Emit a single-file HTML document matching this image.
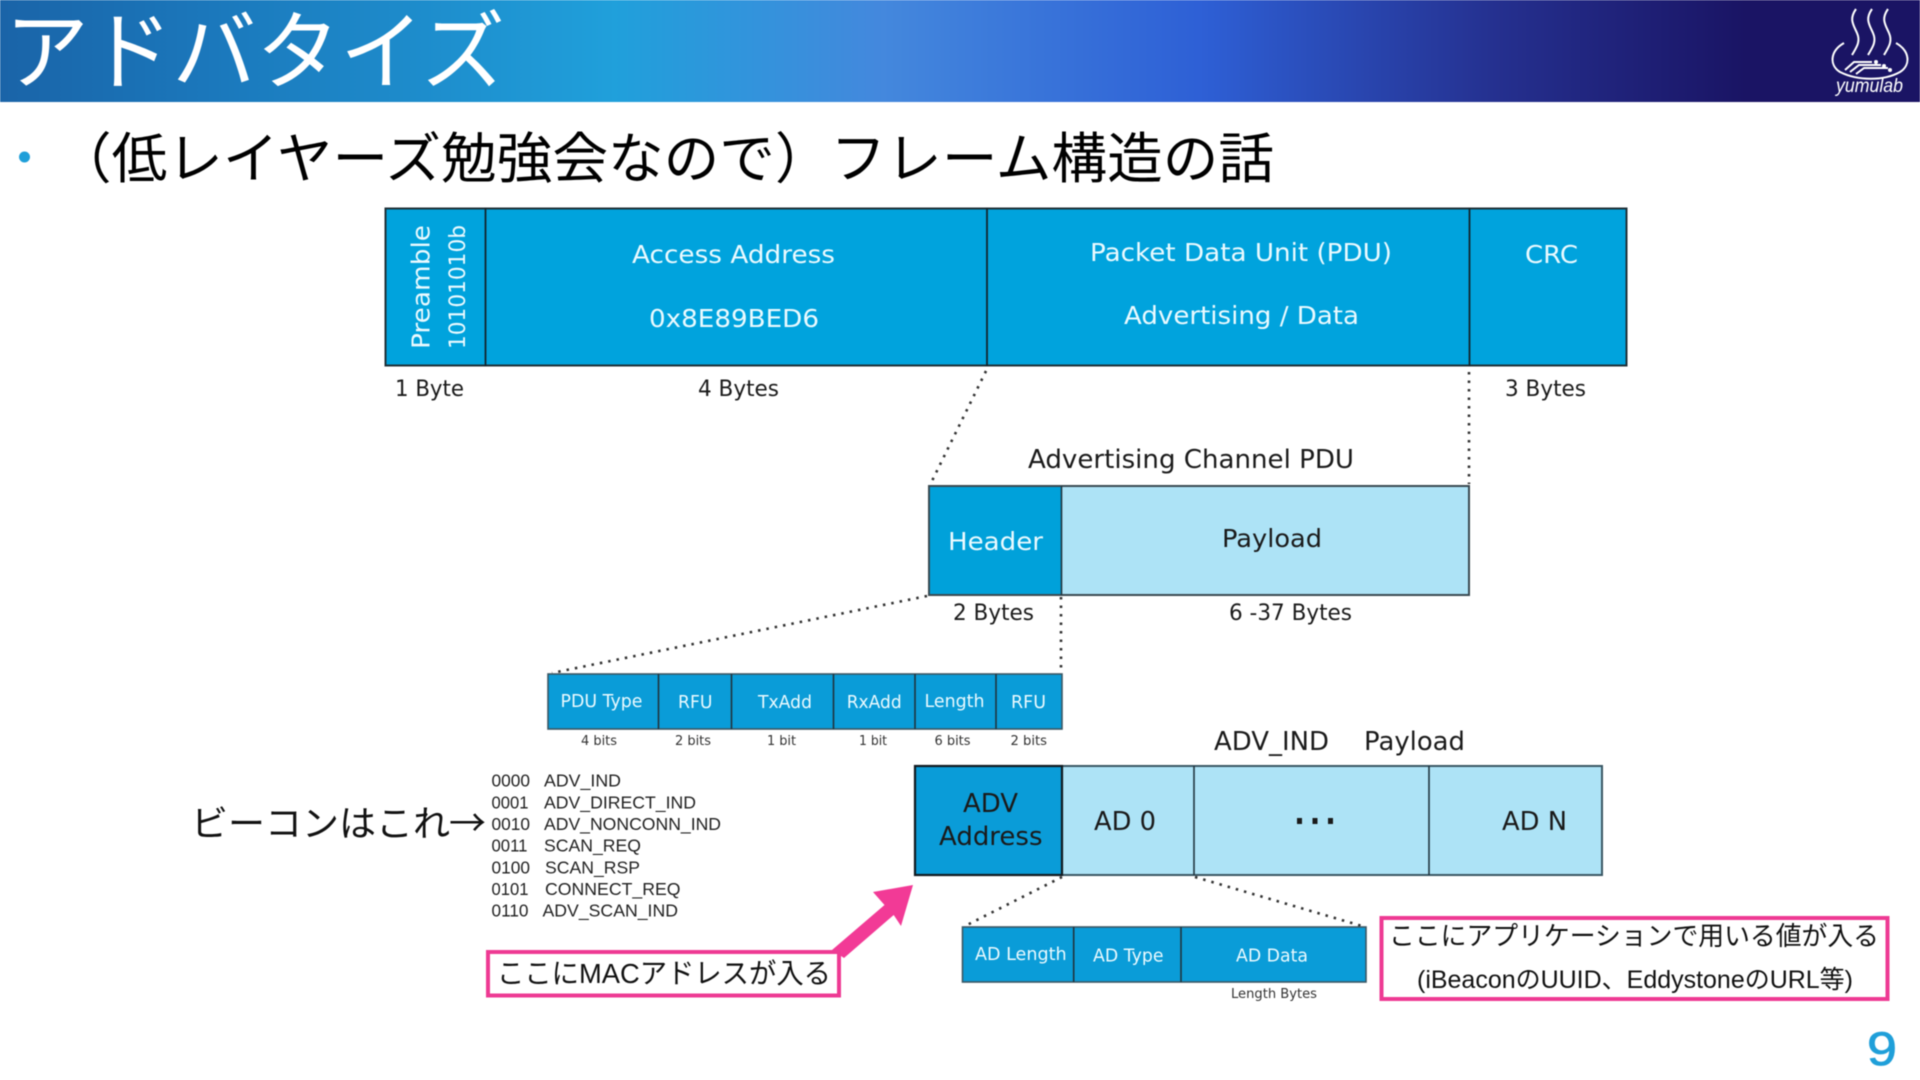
<!DOCTYPE html>
<html lang="ja"><head><meta charset="utf-8"><title>アドバタイズ</title>
<style>
html,body{margin:0;padding:0;background:#fff;width:1920px;height:1080px;overflow:hidden}
svg{display:block;filter:blur(.4px)}
.d{font-family:"DejaVu Sans",sans-serif}
.j{font-family:"Liberation Sans","Noto Sans CJK JP",sans-serif;font-weight:400}
.l{font-family:"Liberation Sans",sans-serif;fill:#222}
.w{fill:#eafaff}.k{fill:#1a1a1a}.g{fill:#333}
.dot{stroke:#333;stroke-width:2.6;stroke-dasharray:2.5 6;fill:none}
.ln{stroke:#20343e;stroke-width:1.6}
</style></head><body>
<svg width="1920" height="1080" viewBox="0 0 1920 1080" xmlns="http://www.w3.org/2000/svg">
<defs><linearGradient id="bar" x1="0" x2="1" y1="0" y2="0">
<stop offset="0" stop-color="#1a64a8"/><stop offset=".11" stop-color="#1b78bc"/><stop offset=".32" stop-color="#20a0db"/><stop offset=".46" stop-color="#4488dd"/><stop offset=".625" stop-color="#2e60d6"/><stop offset=".78" stop-color="#25308f"/><stop offset=".91" stop-color="#1a1464"/><stop offset="1" stop-color="#1a1464"/>
</linearGradient></defs>
<rect width="1920" height="102" fill="url(#bar)"/>
<text class="j" x="5" y="82" font-size="86" fill="#fff" textLength="500" lengthAdjust="spacingAndGlyphs">アドバタイズ</text>

<!-- logo -->
<g fill="none" stroke="#fff" stroke-width="2">
<path d="M1856 9c-7 10-3 15 1 24s-1 15-5 22M1872 9c-7 10-3 15 1 24s-1 15-5 22M1888 9c-7 10-3 15 1 24s-1 15-5 22"/>
<path d="M1844 43c-14 8-15 22-4 29 18 9 44 9 60 0 11-7 10-21-4-29"/>
<path d="M1845 70l9-8h18M1850 72l9-7h22M1856 74l8-6h24"/>
</g>
<circle cx="1876" cy="62" r="2" fill="#fff"/><circle cx="1884" cy="66" r="2" fill="#fff"/><circle cx="1890" cy="70" r="2" fill="#fff"/>
<text x="1836" y="92" font-family="Liberation Sans,sans-serif" font-style="italic" font-size="19" fill="#fff" textLength="67" lengthAdjust="spacingAndGlyphs">yumulab</text>

<circle cx="24.5" cy="157" r="5.5" fill="#1f9fd9"/>
<text class="j" x="56" y="178" font-size="55" fill="#000" textLength="1218" lengthAdjust="spacingAndGlyphs">（低レイヤーズ勉強会なので）フレーム構造の話</text>

<!-- main frame -->
<rect x="385.500" y="208.500" width="1241" height="157" fill="#00a3dd" stroke="#1f3038" stroke-width="2"/>
<path d="M485.500 208v158M987 208v158M1469.500 208v158" stroke="#12262e" stroke-width="1.800"/>
<g class="d w">
<text transform="translate(429.500 349) rotate(-90)" font-size="25" textLength="124" lengthAdjust="spacingAndGlyphs">Preamble</text>
<text transform="translate(465 349) rotate(-90)" font-size="22" textLength="124" lengthAdjust="spacingAndGlyphs">10101010b</text>
<text x="632" y="263" font-size="25" textLength="203" lengthAdjust="spacingAndGlyphs">Access Address</text>
<text x="649" y="327" font-size="25" textLength="170" lengthAdjust="spacingAndGlyphs">0x8E89BED6</text>
<text x="1090" y="261" font-size="25" textLength="302" lengthAdjust="spacingAndGlyphs">Packet Data Unit (PDU)</text>
<text x="1124" y="324" font-size="25" textLength="235" lengthAdjust="spacingAndGlyphs">Advertising / Data</text>
<text x="1525" y="263" font-size="25" textLength="53" lengthAdjust="spacingAndGlyphs">CRC</text>
</g>
<g class="d k" font-size="22">
<text x="395" y="396" textLength="69" lengthAdjust="spacingAndGlyphs">1 Byte</text>
<text x="698" y="396" textLength="81" lengthAdjust="spacingAndGlyphs">4 Bytes</text>
<text x="1505" y="396" textLength="81" lengthAdjust="spacingAndGlyphs">3 Bytes</text>
<text x="1028" y="468" font-size="25.500" textLength="326" lengthAdjust="spacingAndGlyphs">Advertising Channel PDU</text>
<text x="953" y="620" textLength="81" lengthAdjust="spacingAndGlyphs">2 Bytes</text>
<text x="1229" y="620" textLength="123" lengthAdjust="spacingAndGlyphs">6 -37 Bytes</text>
</g>

<!-- connectors -->
<path class="dot" d="M986 371L930 485M1469 372V484M1061 597V672M927 596L552 673M1062 877L965 926M1195 877L1362 926"/>

<!-- advertising channel PDU -->
<rect x="929" y="486" width="133" height="109" fill="#00a1da"/>
<rect x="1062" y="486" width="407" height="109" fill="#ade3f6"/>
<rect x="929" y="486" width="540" height="109" fill="none" stroke="#3a4a52" stroke-width="2"/>
<path d="M1061.500 486v109" class="ln"/>
<text class="d w" x="948" y="550" font-size="25" textLength="95" lengthAdjust="spacingAndGlyphs">Header</text>
<text class="d k" x="1222" y="547" font-size="25" textLength="100" lengthAdjust="spacingAndGlyphs">Payload</text>

<!-- PDU header row -->
<rect x="548" y="674" width="514" height="55" fill="#0a9cd8" stroke="#3a5764" stroke-width="1.600"/>
<path class="ln" d="M658.500 674v55M731.500 674v55M833.500 674v55M915 674v55M996 674v55"/>
<g class="d w" font-size="17.500">
<text x="560.500" y="707" textLength="82" lengthAdjust="spacingAndGlyphs">PDU Type</text>
<text x="678" y="708" textLength="34.500" lengthAdjust="spacingAndGlyphs">RFU</text>
<text x="758" y="708" textLength="54" lengthAdjust="spacingAndGlyphs">TxAdd</text>
<text x="846.700" y="708" textLength="55" lengthAdjust="spacingAndGlyphs">RxAdd</text>
<text x="924.500" y="707" textLength="60" lengthAdjust="spacingAndGlyphs">Length</text>
<text x="1011" y="708" textLength="35" lengthAdjust="spacingAndGlyphs">RFU</text>
</g>
<g class="d g" font-size="13">
<text x="581" y="745" textLength="36" lengthAdjust="spacingAndGlyphs">4 bits</text>
<text x="675" y="745" textLength="36" lengthAdjust="spacingAndGlyphs">2 bits</text>
<text x="767" y="745" textLength="29" lengthAdjust="spacingAndGlyphs">1 bit</text>
<text x="859" y="745" textLength="28" lengthAdjust="spacingAndGlyphs">1 bit</text>
<text x="934.500" y="745" textLength="36" lengthAdjust="spacingAndGlyphs">6 bits</text>
<text x="1010.500" y="745" textLength="36.500" lengthAdjust="spacingAndGlyphs">2 bits</text>
</g>

<!-- code list -->
<g class="l" font-size="17.500">
<text x="491.500" y="786.700" textLength="38.500" lengthAdjust="spacingAndGlyphs">0000</text><text x="544" y="786.700" textLength="77" lengthAdjust="spacingAndGlyphs">ADV_IND</text>
<text x="491.500" y="808.300" textLength="37" lengthAdjust="spacingAndGlyphs">0001</text><text x="544" y="808.300" textLength="152" lengthAdjust="spacingAndGlyphs">ADV_DIRECT_IND</text>
<text x="491.500" y="830" textLength="38.500" lengthAdjust="spacingAndGlyphs">0010</text><text x="544" y="830" textLength="177" lengthAdjust="spacingAndGlyphs">ADV_NONCONN_IND</text>
<text x="491.500" y="851.700" textLength="36" lengthAdjust="spacingAndGlyphs">0011</text><text x="544" y="851.700" textLength="97" lengthAdjust="spacingAndGlyphs">SCAN_REQ</text>
<text x="491.500" y="873.300" textLength="38.500" lengthAdjust="spacingAndGlyphs">0100</text><text x="545" y="873.300" textLength="95" lengthAdjust="spacingAndGlyphs">SCAN_RSP</text>
<text x="491.500" y="895" textLength="37" lengthAdjust="spacingAndGlyphs">0101</text><text x="545" y="895" textLength="135.500" lengthAdjust="spacingAndGlyphs">CONNECT_REQ</text>
<text x="491.500" y="916.700" textLength="37" lengthAdjust="spacingAndGlyphs">0110</text><text x="542.500" y="916.700" textLength="135.500" lengthAdjust="spacingAndGlyphs">ADV_SCAN_IND</text>
</g>
<text class="j" x="191" y="836" font-size="36" fill="#111" textLength="259" lengthAdjust="spacingAndGlyphs">ビーコンはこれ</text>
<text x="449" y="836" font-family="Noto Sans CJK JP,sans-serif" font-size="37" fill="#111">→</text>

<!-- ADV_IND payload -->
<g class="d k" font-size="25.500">
<text x="1214" y="750" textLength="115" lengthAdjust="spacingAndGlyphs">ADV_IND</text>
<text x="1364" y="750" textLength="101" lengthAdjust="spacingAndGlyphs">Payload</text>
</g>
<rect x="915" y="766" width="147" height="109" fill="#0a9cd8"/>
<rect x="1062" y="766" width="540" height="109" fill="#ade3f6" stroke="#3a5764" stroke-width="2"/>
<rect x="915" y="766" width="147" height="109" fill="none" stroke="#101a20" stroke-width="2.200"/>
<path class="ln" d="M1194 766v109M1429 766v109"/>
<g class="d k" font-size="25.500">
<text x="963" y="812" textLength="55" lengthAdjust="spacingAndGlyphs">ADV</text>
<text x="939" y="845" textLength="103.500" lengthAdjust="spacingAndGlyphs">Address</text>
<text x="1094" y="830" textLength="62" lengthAdjust="spacingAndGlyphs">AD 0</text>
<text x="1502" y="830" textLength="65" lengthAdjust="spacingAndGlyphs">AD N</text>
</g>
<path d="M1297 818h5v6h-5zM1312.500 818h5v6h-5zM1328 818h5v6h-5z" fill="#1a1a1a"/>

<!-- AD structure -->
<rect x="962.500" y="927" width="403.500" height="55" fill="#0a9cd8" stroke="#3a5764" stroke-width="1.600"/>
<path class="ln" d="M1073.700 927v55M1181 927v55"/>
<g class="d w" font-size="17.500">
<text x="975" y="960" textLength="91.600" lengthAdjust="spacingAndGlyphs">AD Length</text>
<text x="1093" y="961.600" textLength="70.500" lengthAdjust="spacingAndGlyphs">AD Type</text>
<text x="1236" y="961.600" textLength="72" lengthAdjust="spacingAndGlyphs">AD Data</text>
</g>
<text class="d g" x="1231" y="998" font-size="13" textLength="86" lengthAdjust="spacingAndGlyphs">Length Bytes</text>

<!-- pink callouts -->
<path d="M832 950L884.500 905L873 892L913 885L901 926L893.700 915L844 958Z" fill="#f23a96"/>
<rect x="488" y="952" width="351" height="43.500" fill="#fff" stroke="#ee3a93" stroke-width="4"/>
<text class="j" x="497" y="983" font-size="28" fill="#111" textLength="334" lengthAdjust="spacingAndGlyphs">ここにMACアドレスが入る</text>
<rect x="1381.500" y="918" width="506" height="81" fill="#fff" stroke="#ee3a93" stroke-width="4"/>
<text class="j" x="1389" y="945" font-size="26" fill="#111" textLength="490" lengthAdjust="spacingAndGlyphs">ここにアプリケーションで用いる値が入る</text>
<text class="j" x="1417" y="988" font-size="25" fill="#111" textLength="436" lengthAdjust="spacingAndGlyphs">(iBeaconのUUID、EddystoneのURL等)</text>

<text x="1867" y="1065" font-family="Liberation Sans,sans-serif" font-size="47" fill="#1f9fd9" stroke="#1f9fd9" stroke-width=".8" textLength="30" lengthAdjust="spacingAndGlyphs">9</text>
</svg>
</body></html>
